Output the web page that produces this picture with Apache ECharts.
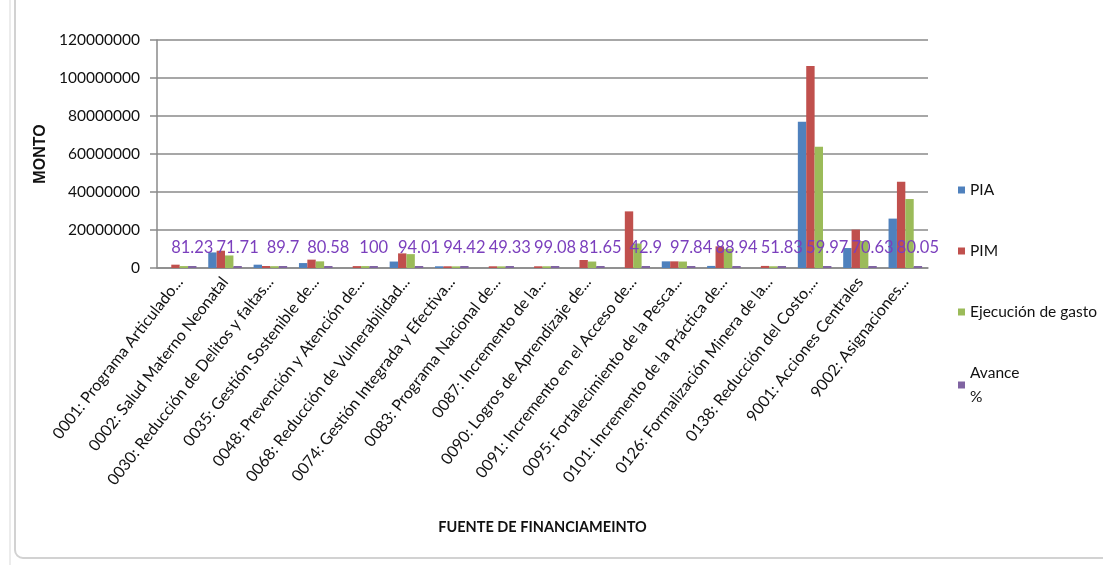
<!DOCTYPE html>
<html>
<head>
<meta charset="utf-8">
<script src="https://cdn.jsdelivr.net/npm/echarts@6/dist/echarts.min.js"></script>
<style>
  html, body { margin: 0; padding: 0; background: #fff; overflow: hidden; }
  #marco {
    position: absolute; left: 14px; top: -12px; width: 1200px; height: 571px;
    border: 2px solid #d2d2d2; border-radius: 9px; box-sizing: border-box;
  }
  #linea { position: absolute; left: 9px; top: 0; width: 2px; height: 565px; background: #ececec; }
  #grafico { position: absolute; left: 0; top: 0; width: 1103px; height: 565px; }
</style>
</head>
<body>
<div id="linea"></div>
<div id="marco"></div>
<div id="grafico"></div>
<script>
// Programas presupuestales (eje X)
const programas = [
  '0001: Programa Articulado...',
  '0002: Salud Materno Neonatal',
  '0030: Reducción de Delitos y faltas...',
  '0035: Gestión Sostenible de...',
  '0048: Prevención y Atención de...',
  '0068: Reducción de Vulnerabilidad...',
  '0074: Gestión Integrada y Efectiva...',
  '0083: Programa Nacional de...',
  '0087: Incremento de la...',
  '0090: Logros de Aprendizaje de...',
  '0091: Incremento en el Acceso de...',
  '0095: Fortalecimiento de la Pesca...',
  '0101: Incremento de la Práctica de...',
  '0126: Formalización Minera de la...',
  '0138: Reducción del Costo,...',
  '9001: Acciones Centrales',
  '9002: Asignaciones...'
];

// Montos por programa
const pia = [0, 8200000, 1750000, 2600000, 0, 3400000, 900000, 0, 0, 0, 0, 3500000, 1100000, 0, 77000000, 10500000, 26000000];
const pim = [1750000, 9100000, 1050000, 4400000, 1000000, 7700000, 900000, 900000, 900000, 4200000, 29800000, 3500000, 11400000, 1100000, 106300000, 20200000, 45400000];
const ejecucion = [1000000, 6600000, 950000, 3500000, 1000000, 7300000, 850000, 850000, 900000, 3400000, 12900000, 3400000, 10100000, 900000, 63800000, 14200000, 36300000];
const avance = [81.23, 71.71, 89.7, 80.58, 100, 94.01, 94.42, 49.33, 99.08, 81.65, 42.9, 97.84, 88.94, 51.83, 59.97, 70.63, 80.05];

const fuente = 'Lato, "Liberation Sans", sans-serif';
const colorEje = '#8a8a8a';

const chart = echarts.init(document.getElementById('grafico'));

function serieBarra(nombre, datos, color) {
  return {
    name: nombre,
    type: 'bar',
    data: datos,
    barGap: '0%',
    barCategoryGap: '26%',
    itemStyle: { color: color },
    emphasis: { disabled: true }
  };
}

const opcion = {
  animation: false,
  textStyle: { fontFamily: fuente },
  grid: { left: 157, right: 175, top: 40, bottom: 297 },
  legend: {
    orient: 'vertical',
    left: 953,
    top: 173,
    itemGap: 37,
    itemWidth: 7,
    itemHeight: 7,
    icon: 'rect',
    textStyle: { fontSize: 15.5, color: '#111', lineHeight: 24, fontFamily: fuente },
    formatter: function (n) { return n === 'Avance %' ? 'Avance\n%' : n; },
    data: ['PIA', 'PIM', 'Ejecución de gasto', 'Avance %']
  },
  xAxis: {
    type: 'category',
    data: programas,
    name: 'FUENTE DE FINANCIAMEINTO',
    nameLocation: 'middle',
    nameGap: 252,
    nameTextStyle: { fontWeight: 'bold', fontSize: 14.5, color: '#111', fontFamily: fuente },
    axisLine: { lineStyle: { color: colorEje, width: 1.5 } },
    axisTick: { show: false },
    axisLabel: { rotate: 52, interval: 0, fontSize: 16, color: '#111', margin: 11 }
  },
  yAxis: {
    type: 'value',
    min: 0,
    max: 120000000,
    interval: 20000000,
    name: 'MONTO',
    nameLocation: 'middle',
    nameGap: 96,
    nameRotate: 90,
    nameTextStyle: { fontWeight: 'bold', fontSize: 16, color: '#111', fontFamily: '"Liberation Sans", sans-serif' },
    axisLine: { show: true, lineStyle: { color: colorEje, width: 1.5 } },
    axisTick: { show: true, length: 7, lineStyle: { color: colorEje, width: 1.5 } },
    splitLine: { lineStyle: { color: colorEje, width: 1.5 } },
    axisLabel: {
      fontSize: 15.5, color: '#111', margin: 17,
      formatter: function (v) { return String(v); }
    }
  },
  series: [
    serieBarra('PIA', pia, '#4f81bd'),
    serieBarra('PIM', pim, '#c0504d'),
    serieBarra('Ejecución de gasto', ejecucion, '#9bbb59'),
    Object.assign(serieBarra('Avance %', avance, '#8064a2'), {
      barMinHeight: 2,
      label: {
        show: true,
        position: 'top',
        distance: 10,
        fontSize: 16.5,
        color: '#7b3fbd',
        fontFamily: fuente
      }
    })
  ]
};

chart.setOption(opcion);
</script>
</body>
</html>
